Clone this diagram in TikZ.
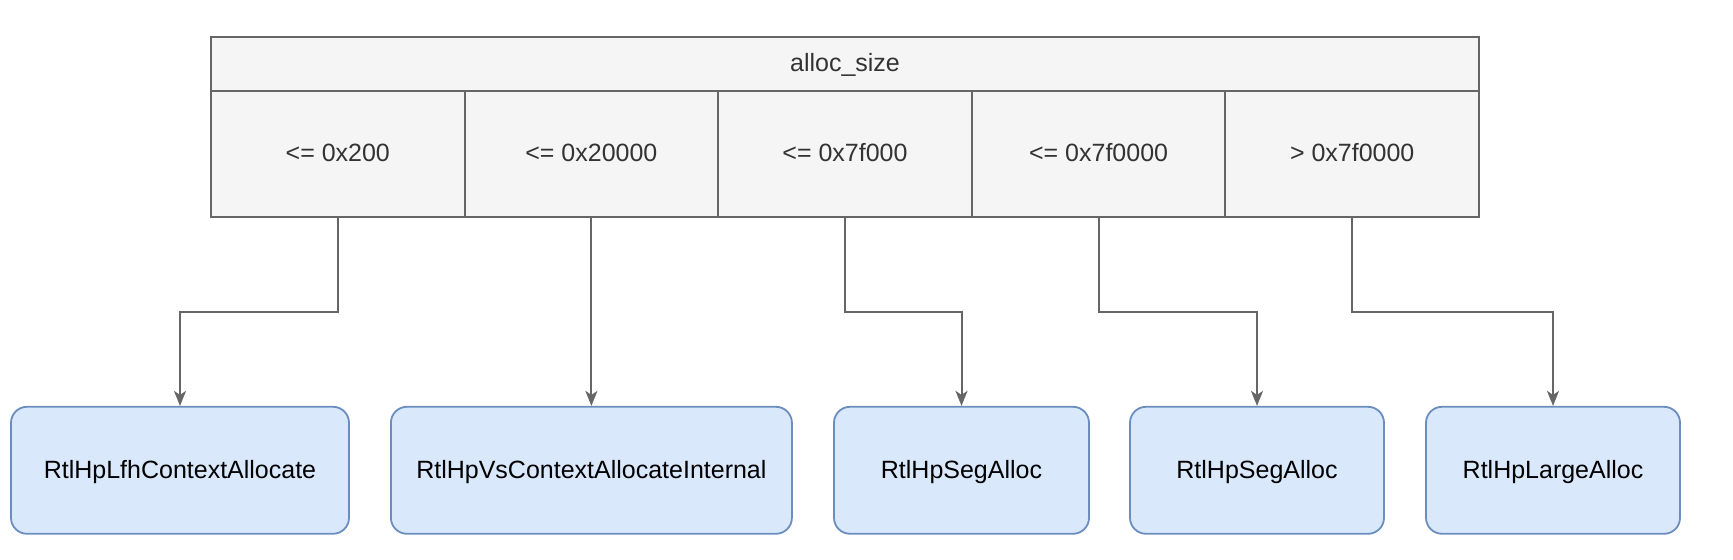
\documentclass[tikz,border=0pt]{standalone}
\usepackage{fontspec}
\setmainfont{Liberation Sans}
\usetikzlibrary{arrows.meta,positioning}

\definecolor{cellfill}{HTML}{F5F5F5}
\definecolor{cellline}{HTML}{666666}
\definecolor{celltext}{HTML}{333333}
\definecolor{fnfill}{HTML}{DAE8FC}
\definecolor{fnline}{HTML}{6C8EBF}

\begin{document}
\begin{tikzpicture}[x=0.5pt, y=-0.5pt, font=\fontsize{12.5}{15}\selectfont,
        cell/.style={draw=cellline, fill=cellfill, text=celltext, line width=1pt, inner sep=0pt, text height=0.9em, text depth=0.1em, minimum width=126.8pt, minimum height=63pt},
        fnbox/.style={draw=fnline, fill=fnfill, line width=0.9pt, rounded corners=8pt, inner sep=0pt, text height=0.9em, text depth=0.1em, minimum height=63.5pt},
        link/.style={draw=cellline, line width=1pt, -{Stealth[length=7.5pt,width=6pt,inset=2pt]}}]
        \useasboundingbox (0,0) rectangle (1733,560);

        % size table
        \node[cell, minimum width=634pt, minimum height=27pt] (size) at (845,63.6) {alloc\_size};
        \node[cell] (c1) at (337.8,153.6) {<= 0x200};
        \node[cell] (c2) at (591.4,153.6) {<= 0x20000};
        \node[cell] (c3) at (845,153.6) {<= 0x7f000};
        \node[cell] (c4) at (1098.6,153.6) {<= 0x7f0000};
        \node[cell] (c5) at (1352.2,153.6) {> 0x7f0000};

        % allocators
        \node[fnbox, minimum width=169pt] (f1) at (180,470.3) {RtlHpLfhContextAllocate};
        \node[fnbox, minimum width=200.5pt] (f2) at (591.4,470.3) {RtlHpVsContextAllocateInternal};
        \node[fnbox, minimum width=127.5pt] (f3) at (961.5,470.3) {RtlHpSegAlloc};
        \node[fnbox, minimum width=127pt] (f4) at (1257,470.3) {RtlHpSegAlloc};
        \node[fnbox, minimum width=127pt] (f5) at (1553,470.3) {RtlHpLargeAlloc};

        \coordinate (elbow) at (0,312);
        \foreach \i in {1,...,5}
            \draw[link] (c\i.south) -- (c\i.south |- elbow) -| (f\i.north);
    \end{tikzpicture}
\end{document}
